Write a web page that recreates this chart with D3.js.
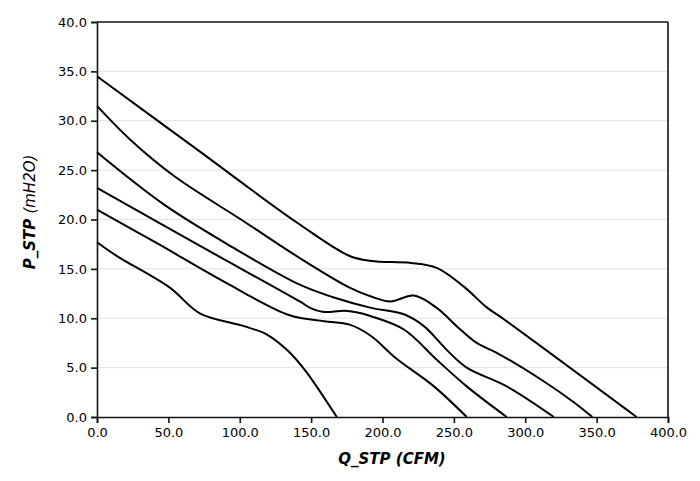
<!DOCTYPE html>
<html>
<head>
<meta charset="utf-8">
<script src="https://cdn.jsdelivr.net/npm/d3@7"></script>
<style>
    body { margin: 0; background: #fff; }
    .grid line { stroke: #e2e2e2; stroke-width: 1; }
    .axis text { font-family: "DejaVu Sans", sans-serif; font-size: 13px; fill: #000; }
    .axis path, .axis line { stroke: #111; stroke-width: 1.6; }
    .curve { fill: none; stroke: #000; stroke-width: 2; }
    .title { font-family: "DejaVu Sans", sans-serif; font-size: 15px; font-weight: bold; font-style: italic; }
</style>
</head>
<body>
<svg id="chart" width="700" height="481"></svg>
<script>
// fan curves, Q_STP (CFM) vs P_STP (mH2O)
const curve1 = [[0, 34.5], [70, 27.1], [140, 19.7], [177, 16.3], [192, 15.8], [220, 15.6], [238, 15.1], [257, 13.2], [273, 11.1], [285, 9.9], [378, 0]];
const curve2 = [[0, 31.5], [23.5, 28.05], [54, 24.4], [103, 19.8], [142, 16.1], [177, 13.1], [192, 12.2], [205.5, 11.7], [222, 12.3], [238, 11.05], [252, 9.2], [266, 7.5], [280, 6.5], [311, 3.8], [334, 1.5], [347, 0]];
const curve3 = [[0, 26.8], [47, 21.5], [96, 17.1], [142, 13.4], [166, 12.1], [192, 11.05], [215, 10.4], [229, 9.2], [245, 6.8], [259, 5.0], [287, 3.1], [320, 0]];
const curve4 = [[0, 23.2], [75, 17.1], [142, 11.7], [150, 11.0], [158, 10.65], [165, 10.65], [173, 10.75], [185, 10.5], [192, 10.2], [215, 8.86], [238, 5.8], [259, 3.1], [287, 0]];
const curve5 = [[0, 21.0], [42, 17.6], [89, 13.7], [135, 10.3], [159, 9.7], [177, 9.35], [192, 8.2], [209, 6.0], [236, 3.1], [259, 0]];
const curve6 = [[0, 17.7], [14, 16.3], [51, 13.1], [72, 10.5], [103, 9.2], [119, 8.35], [133, 6.8], [147, 4.5], [168, 0]];
const curves = [curve1, curve2, curve3, curve4, curve5, curve6];

const xTicks = [0, 50, 100, 150, 200, 250, 300, 350, 400];
const yTicks = [0, 5, 10, 15, 20, 25, 30, 35, 40];

const margin = {top: 22, right: 32, bottom: 64, left: 97};
const svg = d3.select("#chart");
const width = 700 - margin.left - margin.right;
const height = 481 - margin.top - margin.bottom;

const x = d3.scaleLinear().domain([0, 400]).range([0, width]);
const y = d3.scaleLinear().domain([0, 40]).range([height, 0]);

const g = svg.append("g").attr("transform", `translate(${margin.left},${margin.top})`);

// horizontal gridlines
g.append("g").attr("class", "grid")
    .selectAll("line")
    .data(yTicks.slice(1, -1))
    .enter().append("line")
    .attr("x1", 0).attr("x2", width)
    .attr("y1", d => y(d)).attr("y2", d => y(d));

const line = d3.line()
    .x(d => x(d[0]))
    .y(d => y(d[1]))
    .curve(d3.curveCatmullRom.alpha(0.5));

g.selectAll(".curve")
    .data(curves)
    .enter().append("path")
    .attr("class", "curve")
    .attr("d", line);

// frame: top and right
g.append("line").attr("x1", 0).attr("x2", width).attr("y1", 0).attr("y2", 0)
    .attr("stroke", "#111").attr("stroke-width", 1.6);
g.append("line").attr("x1", width).attr("x2", width).attr("y1", 0).attr("y2", height)
    .attr("stroke", "#111").attr("stroke-width", 1.6);

g.append("g").attr("class", "axis")
    .attr("transform", `translate(0,${height})`)
    .call(d3.axisBottom(x).tickValues(xTicks).tickFormat(d3.format(".1f")).tickSizeOuter(0).tickSize(6).tickPadding(5));

g.append("g").attr("class", "axis")
    .call(d3.axisLeft(y).tickValues(yTicks).tickFormat(d3.format(".1f")).tickSizeOuter(0).tickSize(6).tickPadding(4));

svg.append("text").attr("class", "title")
    .attr("x", 392).attr("y", 464)
    .attr("text-anchor", "middle")
    .text("Q_STP (CFM)");

let yTitle = svg.append("text").attr("class", "title")
    .attr("transform", "translate(35,212) rotate(-90)")
    .attr("text-anchor", "middle");
yTitle.append("tspan").text("P_STP ");
yTitle.append("tspan").attr("font-weight", "normal").text("(mH2O)");
</script>
</body>
</html>
